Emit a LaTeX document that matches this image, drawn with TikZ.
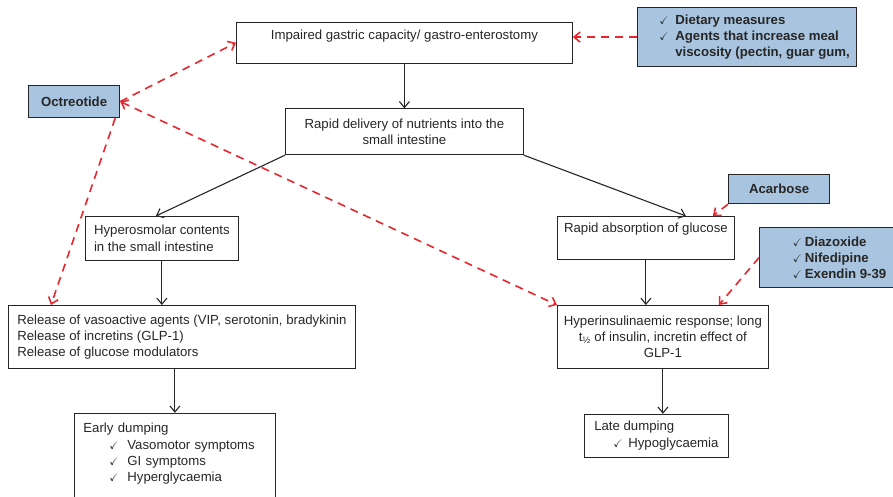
\documentclass[tikz,border=0pt]{standalone}
\usepackage{amssymb}
\usepackage{fontspec}
\setmainfont{Liberation Sans}
\usetikzlibrary{arrows.meta,positioning}
\definecolor{drugblue}{RGB}{168,196,222}
\definecolor{dashred}{RGB}{232,38,46}
\newcommand{\chk}{{\fontsize{11}{11}\selectfont$\checkmark$}}
\newcommand{\chkitem}[1]{\makebox[#1][l]{\chk}}

\begin{document}
\begin{tikzpicture}[x=1pt,y=-1pt,>={Straight Barb[length=6pt,width=10pt]},
  font=\fontsize{13.2}{16.3}\selectfont,
  stage/.style={draw=black!85,line width=0.8pt,text=black!85,inner xsep=6pt,inner ysep=3pt},
  drug/.style={stage,fill=drugblue,line width=1.2pt,font=\fontsize{13.2}{16.3}\selectfont\bfseries},
  flow/.style={->,draw=black!85,line width=1.1pt},
  treat/.style={->,draw=dashred,line width=1.6pt,dash pattern=on 8pt off 6pt}]
  \useasboundingbox (0,0) rectangle (893,496);
  \clip (0,0) rectangle (893,496);

  % main pathway
  \node[stage,anchor=north west,minimum width=336pt,inner ysep=8pt,text depth=15pt] (impaired) at (236,22) {Impaired gastric capacity/ gastro-enterostomy};
  \node[stage,align=center,minimum width=238pt,minimum height=46pt,below=45pt of impaired] (delivery) {Rapid delivery of nutrients into the\\
  small intestine};
  \node[stage,anchor=north west,align=left,minimum width=153pt,minimum height=44pt] (hyperosm) at (85,216) {Hyperosmolar contents\\
  in the small intestine};
  \node[stage,anchor=north west,minimum width=177pt,inner ysep=7pt,text depth=19pt] (absorb) at (557,216) {Rapid absorption of glucose};
  \node[stage,anchor=north west,align=left,minimum width=347pt,minimum height=63pt] (release) at (8,305) {Release of vasoactive agents (VIP, serotonin, bradykinin\\
  Release of incretins (GLP-1)\\
  Release of glucose modulators};
  \node[stage,anchor=north west,align=center,minimum width=211pt,minimum height=63pt] (hyperins) at (557,305) {Hyperinsulinaemic response; long\\
  t\textsubscript{½} of insulin, incretin effect of\\
  GLP-1};
  \node[stage,align=left,inner xsep=9pt,inner ysep=10pt,text width=183pt,text depth=70pt,below=44pt of release,xshift=-7pt] (early) {Early dumping\\
  \hspace*{26pt}\chkitem{18pt}Vasomotor symptoms\\
  \hspace*{26pt}\chkitem{18pt}GI symptoms\\
  \hspace*{26pt}\chkitem{18pt}Hyperglycaemia};
  \node[stage,align=left,minimum width=144pt,minimum height=43pt,below=45pt of hyperins,xshift=-6.5pt] (late) {Late dumping\\
  \hspace*{19pt}\chkitem{15pt}Hypoglycaemia};

  % treatments
  \node[drug,anchor=north west,align=left,minimum width=219pt,minimum height=59pt] (diet) at (637,7) {\hspace*{15pt}\chkitem{16pt}Dietary measures\\
  \hspace*{15pt}\chkitem{16pt}Agents that increase meal\\
  \hspace*{31pt}viscosity (pectin, guar gum,};
  \node[drug,anchor=north west,minimum width=91pt,minimum height=32pt] (octreo) at (28,85) {Octreotide};
  \node[drug,anchor=north west,minimum width=101pt,minimum height=29pt] (acarb) at (728,174) {Acarbose};
  \node[drug,anchor=north west,align=left,minimum width=134pt,minimum height=60pt] (diazo) at (759,227) {\hspace*{26pt}\chkitem{12pt}Diazoxide\\
  \hspace*{26pt}\chkitem{12pt}Nifedipine\\
  \hspace*{26pt}\chkitem{12pt}Exendin 9-39};

  \draw[flow] (impaired) -- (delivery);
  \draw[flow] (delivery.south west) -- ([xshift=-6pt]hyperosm.north);
  \draw[flow] (delivery.south east) -- ([xshift=40pt]absorb.north);
  \draw[flow] (hyperosm.south) -- (hyperosm.south |- release.north);
  \draw[flow] (absorb.south) -- (absorb.south |- hyperins.north);
  \draw[flow] (early.north |- release.south) -- (early.north);
  \draw[flow] (hyperins.south) -- (hyperins.south |- late.north);

  \draw[treat] (diet.west) -- (diet.west -| impaired.east);
  \draw[treat] (octreo.east) -- (impaired.west);
  \draw[treat,<->] (octreo.east) -- (hyperins.north west);
  \draw[treat] ([xshift=-5pt]octreo.south east) -- ([xshift=43pt]release.north west);
  \draw[treat] (acarb.south west) -- ([xshift=-22pt]absorb.north east);
  \draw[treat] (diazo.west) -- ([xshift=-50pt]hyperins.north east);
\end{tikzpicture}
\end{document}
